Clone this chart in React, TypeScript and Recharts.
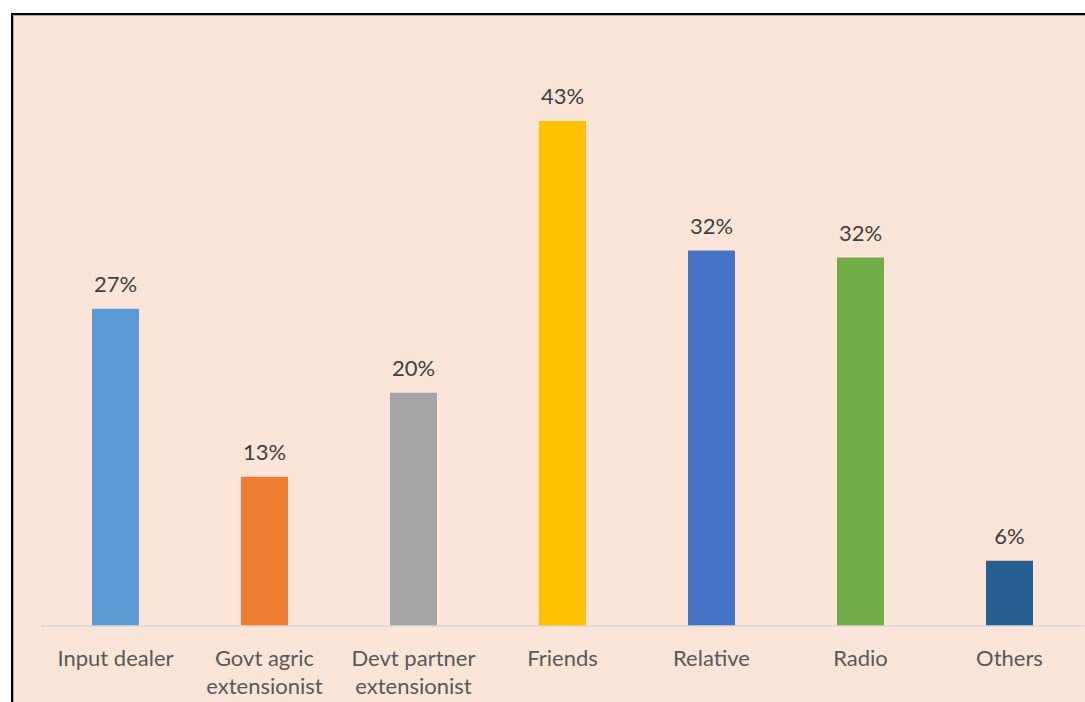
import React from "react";
import { BarChart, Bar, XAxis, YAxis, Cell, LabelList } from "recharts";

const categories = [
  "Input dealer",
  "Govt agric extensionist",
  "Devt partner extensionist",
  "Friends",
  "Relative",
  "Radio",
  "Others",
];
const shares = [27.2, 12.8, 20.0, 43.3, 32.2, 31.6, 5.6];
const barColors = ["#5B9BD5", "#ED7D31", "#A5A5A5", "#FFC000", "#4472C4", "#70AD47", "#255E91"];

const data = categories.map((name, i) => ({ name, value: shares[i] }));

const FONT = "Lato, 'Open Sans', sans-serif";

function CategoryTick({ x, y, payload }: any) {
  const words = String(payload.value).split(" ");
  const lines = words.length > 2 ? [words.slice(0, 2).join(" "), words.slice(2).join(" ")] : [words.join(" ")];
  return (
    <text x={x} y={y} textAnchor="middle" fill="#595959" fontSize={22} fontFamily={FONT}>
      {lines.map((line, i) => (
        <tspan key={i} x={x} dy={i === 0 ? "0.71em" : 28}>
          {line}
        </tspan>
      ))}
    </text>
  );
}

export default function App() {
  return (
    <div style={{ position: "absolute", left: 0, top: 0, width: 1085, height: 702, overflow: "hidden", background: "#fff" }}>
      <div
        style={{
          position: "absolute",
          left: 11,
          top: 13,
          width: 1200,
          height: 800,
          border: "2px solid #000",
          boxSizing: "border-box",
          background: "#FAE5D8",
        }}
      >
        <div style={{ position: "absolute", left: 0, top: 0, right: 0, bottom: 0, borderLeft: "1px solid #A6A6A6", borderTop: "1px solid #A6A6A6" }} />
      </div>
      <div style={{ position: "absolute", left: 0, top: 0 }}>
        <BarChart width={1085} height={702} data={data} margin={{ top: 43, right: 1, bottom: 6, left: 41 }}>
          <XAxis
            dataKey="name"
            axisLine={{ stroke: "#D9D9D9", strokeWidth: 1.5 }}
            tickLine={false}
            tickSize={0}
            tickMargin={24}
            height={70}
            interval={0}
            tick={<CategoryTick />}
          />
          <YAxis hide domain={[0, 50]} />
          <Bar dataKey="value" barSize={47} isAnimationActive={false}>
            {data.map((d, i) => (
              <Cell key={d.name} fill={barColors[i]} />
            ))}
            <LabelList
              dataKey="value"
              position="top"
              offset={17}
              formatter={(v: any) => `${Math.round(Number(v))}%`}
              fill="#404040"
              fontSize={22}
              fontFamily={FONT}
            />
          </Bar>
        </BarChart>
      </div>
    </div>
  );
}
